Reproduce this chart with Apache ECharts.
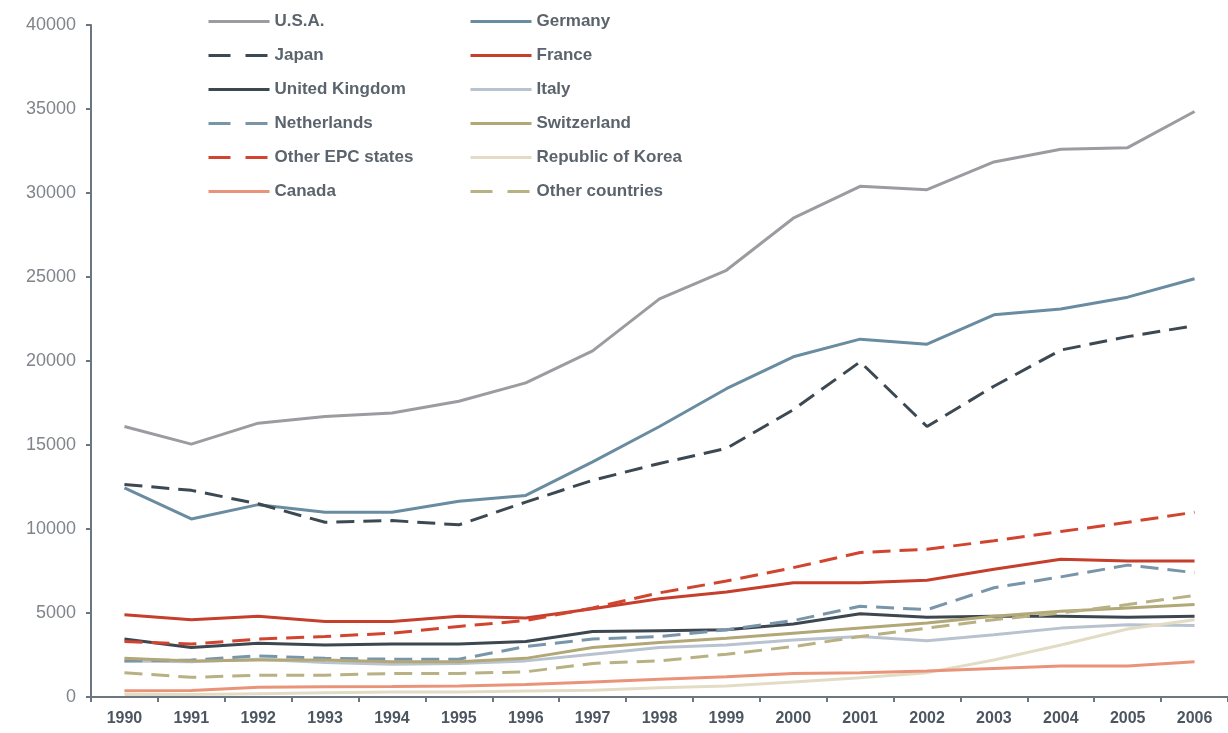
<!DOCTYPE html>
<html>
<head>
<meta charset="utf-8">
<script src="https://cdn.jsdelivr.net/npm/echarts@6/dist/echarts.min.js"></script>
<style>
  html, body { margin: 0; padding: 0; background: #fff; }
  #chart { width: 1228px; height: 733px; }
</style>
</head>
<body>
<div id="chart"></div>
<script>
const years = ['1990', '1991', '1992', '1993', '1994', '1995', '1996', '1997', '1998',
  '1999', '2000', '2001', '2002', '2003', '2004', '2005', '2006']

const usa = [16100, 15050, 16300, 16700, 16900, 17600, 18700, 20600, 23700, 25400, 28500, 30400, 30200, 31850, 32600, 32700, 34850]
const germany = [12450, 10600, 11450, 11000, 11000, 11650, 12000, 14000, 16100, 18350, 20250, 21300, 21000, 22750, 23100, 23800, 24900]
const japan = [12650, 12300, 11500, 10400, 10500, 10250, 11600, 12900, 13900, 14800, 17100, 19950, 16100, 18500, 20650, 21450, 22100]
const france = [4900, 4600, 4800, 4500, 4500, 4800, 4700, 5250, 5850, 6250, 6800, 6800, 6950, 7600, 8200, 8100, 8100]
const uk = [3450, 2950, 3200, 3100, 3150, 3150, 3300, 3900, 3950, 4000, 4350, 4950, 4750, 4800, 4800, 4750, 4800]
const italy = [2150, 2100, 2250, 2050, 1950, 2000, 2150, 2550, 2950, 3100, 3400, 3600, 3350, 3700, 4100, 4300, 4250]
const netherlands = [2150, 2200, 2450, 2300, 2250, 2250, 3000, 3450, 3600, 4000, 4550, 5400, 5200, 6500, 7150, 7850, 7400]
const switzerland = [2300, 2150, 2200, 2200, 2100, 2100, 2300, 2950, 3250, 3500, 3800, 4100, 4400, 4800, 5100, 5300, 5500]
const otherEpc = [3300, 3150, 3450, 3600, 3800, 4200, 4550, 5300, 6200, 6900, 7700, 8600, 8800, 9300, 9850, 10400, 11000]
const korea = [150, 150, 200, 250, 300, 300, 350, 400, 550, 650, 900, 1150, 1450, 2200, 3100, 4050, 4600]
const canada = [370, 380, 580, 610, 620, 650, 750, 900, 1050, 1200, 1400, 1450, 1550, 1700, 1850, 1850, 2100]
const otherCountries = [1450, 1170, 1300, 1300, 1400, 1400, 1500, 2000, 2150, 2550, 3000, 3600, 4100, 4600, 5000, 5500, 6050]

const leftNames = ['U.S.A.', 'Japan', 'United Kingdom', 'Netherlands', 'Other EPC states', 'Canada']
const rightNames = ['Germany', 'France', 'Italy', 'Switzerland', 'Republic of Korea', 'Other countries']
const yTicks = [0, 5000, 10000, 15000, 20000, 25000, 30000, 35000, 40000]

const dash = [18, 9]

const lines = [
  { name: 'U.S.A.', data: usa, color: '#9c9ba0', dashed: false },
  { name: 'Germany', data: germany, color: '#6a8ca1', dashed: false },
  { name: 'Japan', data: japan, color: '#3d4952', dashed: true },
  { name: 'France', data: france, color: '#c63e2c', dashed: false },
  { name: 'United Kingdom', data: uk, color: '#3c4750', dashed: false },
  { name: 'Italy', data: italy, color: '#b8c3cf', dashed: false },
  { name: 'Netherlands', data: netherlands, color: '#7895a9', dashed: true },
  { name: 'Switzerland', data: switzerland, color: '#b2a776', dashed: false },
  { name: 'Other EPC states', data: otherEpc, color: '#d14530', dashed: true },
  { name: 'Republic of Korea', data: korea, color: '#e3dcc5', dashed: false },
  { name: 'Canada', data: canada, color: '#e99479', dashed: false },
  { name: 'Other countries', data: otherCountries, color: '#b8b184', dashed: true }
]

const dashedNames = lines.filter(l => l.dashed).map(l => l.name)

// legend line icons only, no symbol in the middle
const legendItems = (names) => names.map(n => ({
  name: n,
  lineStyle: { width: 3, type: dashedNames.includes(n) ? [22, 15] : 'solid' },
  itemStyle: { opacity: 0 }
}))

const legendBase = {
  orient: 'vertical',
  top: 8,
  itemWidth: 61,
  itemHeight: 16,
  itemGap: 17,
  itemStyle: { opacity: 0 },
  textStyle: {
    fontFamily: 'Liberation Sans',
    fontSize: 17,
    fontWeight: 'bold',
    color: '#5b646c'
  }
}

const chart = echarts.init(document.getElementById('chart'))

const option = {
  animation: false,
  backgroundColor: '#fff',
  legend: [
    Object.assign({}, legendBase, { left: 202, data: legendItems(leftNames) }),
    Object.assign({}, legendBase, { left: 464, data: legendItems(rightNames) })
  ],
  grid: {
    left: 91,
    top: 25,
    width: 1142,
    height: 672
  },
  xAxis: {
    type: 'category',
    data: years,
    boundaryGap: true,
    axisLine: { lineStyle: { color: '#6b7680', width: 2 } },
    axisTick: { show: true, length: 5, lineStyle: { color: '#6b7680', width: 2 } },
    axisLabel: {
      fontFamily: 'Liberation Sans',
      fontSize: 16,
      fontWeight: 'bold',
      color: '#4c5660',
      margin: 14
    },
    splitLine: { show: false }
  },
  yAxis: {
    type: 'value',
    min: yTicks[0],
    max: yTicks[yTicks.length - 1],
    interval: 5000,
    axisLine: { show: true, lineStyle: { color: '#6b7680', width: 2 } },
    axisTick: { show: true, length: 5, lineStyle: { color: '#6b7680', width: 2 } },
    axisLabel: {
      fontFamily: 'Liberation Sans',
      fontSize: 18,
      color: '#7f858b',
      margin: 15,
      formatter: v => String(v)
    },
    splitLine: { show: false }
  },
  series: lines.map(l => ({
    name: l.name,
    type: 'line',
    data: l.data,
    symbol: 'none',
    color: l.color,
    lineStyle: {
      color: l.color,
      width: 3,
      type: l.dashed ? dash : 'solid'
    }
  }))
}

chart.setOption(option)
</script>
</body>
</html>
